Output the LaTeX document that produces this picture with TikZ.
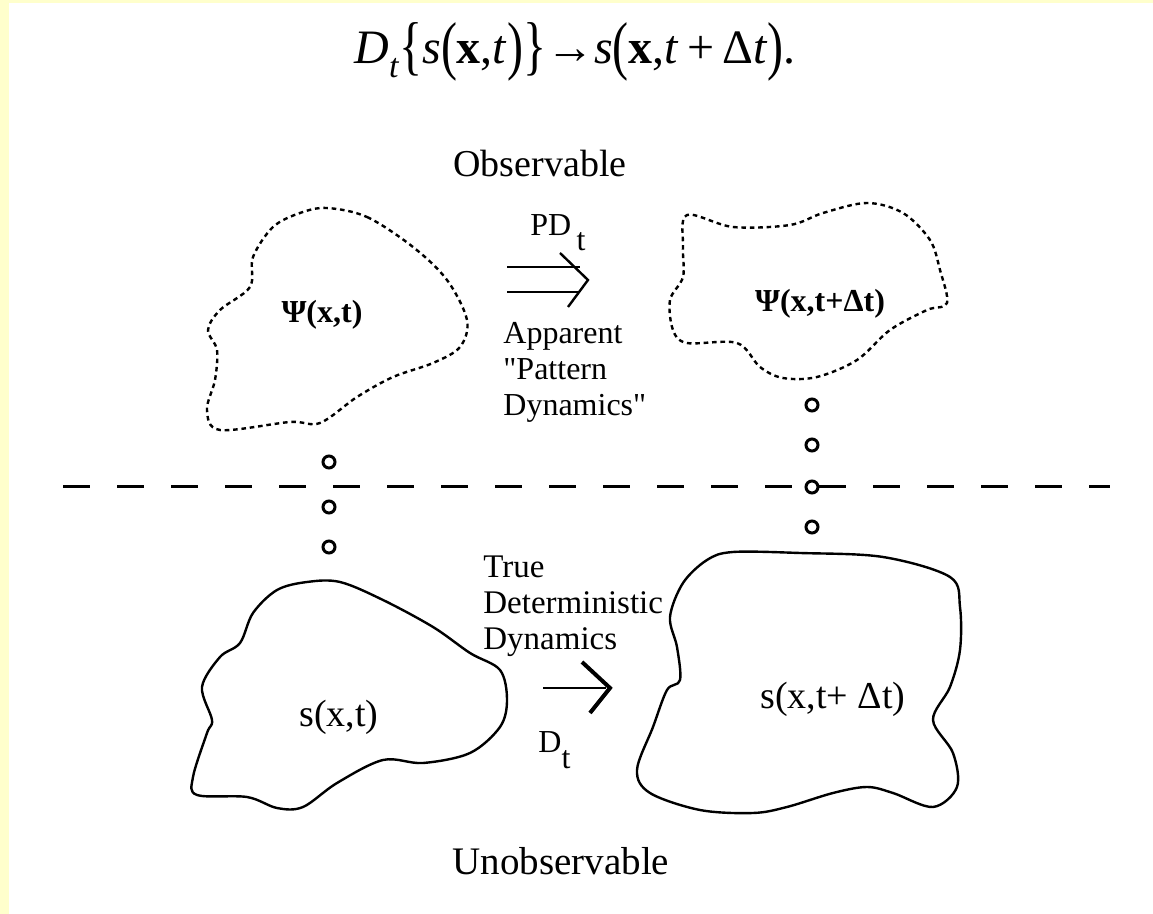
\documentclass[tikz,border=0pt]{standalone}
\usepackage{fontspec}
\usepackage{graphicx}
\setmainfont{Liberation Serif}[Ligatures=TeXOff]
\definecolor{bgyellow}{HTML}{FFFFCC}
\newcommand{\tallp}[1]{\raisebox{-0.09em}{\scalebox{1}[1.35]{#1}}}
\tikzset{
  dashblob/.style={draw=black, line width=1.2pt, dash pattern=on 2.3pt off 1.9pt, smooth cycle, tension=0.55},
  solidblob/.style={draw=black, line width=1.2pt, smooth cycle, tension=0.55},
  ring/.style={draw=black, line width=1.5pt, circle, minimum size=6pt, inner sep=0pt},
  lbl/.style={inner sep=0pt, text=black},
  arr/.style={line width=1.2pt},
}
\begin{document}
\begin{tikzpicture}[x=0.5pt,y=-0.5pt]
\useasboundingbox (0,0) rectangle (1153,914);
\fill[white] (0,0) rectangle (1153,914);
\fill[bgyellow] (0,0) rectangle (1153,3);
\fill[bgyellow] (0,0) rectangle (9,914);

% equation
\node[lbl, font=\fontsize{24pt}{28pt}\selectfont] (eq) at (575,52) {%
 \textit{D}\raisebox{-0.3em}{\fontsize{17pt}{20pt}\selectfont\textit{t}}\tallp{\{}\textit{s}\tallp{(}\textbf{x},\textit{t}\tallp{)}\tallp{\}}→\textit{s}\tallp{(}\textbf{x},\textit{t}\,+\,Δ\textit{t}\tallp{)}.};

\node[lbl, font=\fontsize{19pt}{22pt}\selectfont] (obs) at (540,164) {Observable};
\node[lbl, font=\fontsize{19.5pt}{22pt}\selectfont] (unobs) at (561,861) {Unobservable};

% dashed separator
\coordinate (sepL) at (63,487);
\coordinate (sepR) at (1110,487);
\draw[line width=1.5pt, dash pattern=on 13.5pt off 13.5pt] (sepL) -- (sepR);

% top-left observable blob
\draw[dashblob] plot coordinates {(327,208) (367,217) (413,247) (447,280) (467,320) (460,347) (433,363) (393,377) (357,397) (320,423) (290,422) (220,430) (207,410) (215,380) (217,350) (208,330) (220,310) (250,287) (253,257) (273,227) (300,213)};
\node[lbl, font=\fontsize{16pt}{19pt}\selectfont\bfseries] (psi1) at (322,315) {Ψ(x,t)};

% top-right observable blob
\draw[dashblob] plot coordinates {(687,215) (733,227) (790,225) (823,213) (867,203) (903,213) (930,240) (940,270) (947,303) (927,310) (890,330) (857,360) (817,377) (783,378) (760,367) (737,343) (687,343) (673,330) (670,300) (683,277) (683,247)};
\node[lbl, font=\fontsize{16pt}{19pt}\selectfont\bfseries] (psi2) at (820,304) {Ψ(x,t+Δt)};

% bottom-left blob
\draw[solidblob] plot coordinates {(307,582) (340,582) (383,600) (433,627) (470,653) (500,670) (507,700) (500,727) (470,753) (423,763) (383,760) (337,783) (303,807) (277,808) (247,797) (197,795) (193,777) (207,733) (212,720) (202,687) (220,657) (240,643) (253,613) (277,590)};
\node[lbl, font=\fontsize{19pt}{22pt}\selectfont] (s1) at (339,717) {s(x,t)};

% bottom-right blob
\draw[solidblob] plot coordinates {(733,552) (800,553) (883,557) (950,577) (960,607) (960,650) (950,687) (933,720) (953,753) (957,787) (933,807) (893,793) (867,787) (833,793) (787,807) (753,813) (700,810) (650,793) (637,770) (653,727) (667,690) (680,680) (677,647) (670,617) (683,583) (707,560)};
\node[lbl, font=\fontsize{19pt}{22pt}\selectfont] (s2) at (833,699) {s(x,t+ Δt)};

% rings
\node[ring] (l1) at (329,462) {};
\node[ring] (l2) at (329,507) {};
\node[ring] (l3) at (329,547) {};
\node[ring] (r1) at (812,405) {};
\node[ring] (r2) at (812,445) {};
\node[ring] (r3) at (812,487) {};
\node[ring] (r4) at (812,527) {};

% pattern dynamics double arrow
\coordinate (da1) at (507,267); \coordinate (da2) at (580,267);
\coordinate (db1) at (507,292); \coordinate (db2) at (580,292);
\coordinate (dh1) at (560,253); \coordinate (dh2) at (588,280); \coordinate (dh3) at (568,307);
\draw[arr] (da1) -- (da2);
\draw[arr] (db1) -- (db2);
\draw[arr, line join=miter] (dh1) -- (dh2) -- (dh3);
\node[lbl, anchor=base west, font=\fontsize{16pt}{19pt}\selectfont] (pd) at (530,236) {PD\,\raisebox{-0.45em}{t}};
\node[lbl, anchor=north west, align=left, font=\fontsize{16pt}{18pt}\selectfont] (app) at (503,322) {Apparent\\"Pattern\\Dynamics"};

% true dynamics arrow
\coordinate (sa1) at (543,688); \coordinate (sa2) at (606,688);
\coordinate (sh1) at (582,662); \coordinate (sh2) at (610,688); \coordinate (sh3) at (590,713);
\draw[line width=1.1pt] (sa1) -- (sa2);
\draw[line width=2pt, line join=miter] (sh1) -- (sh2) -- (sh3);
\node[lbl, anchor=north west, align=left, font=\fontsize{16.5pt}{18pt}\selectfont] (tdd) at (483,555) {True\\Deterministic\\Dynamics};
\node[lbl, anchor=base west, font=\fontsize{16pt}{19pt}\selectfont] (dt) at (538,753) {D\raisebox{-0.5em}{t}};
\end{tikzpicture}
\end{document}
